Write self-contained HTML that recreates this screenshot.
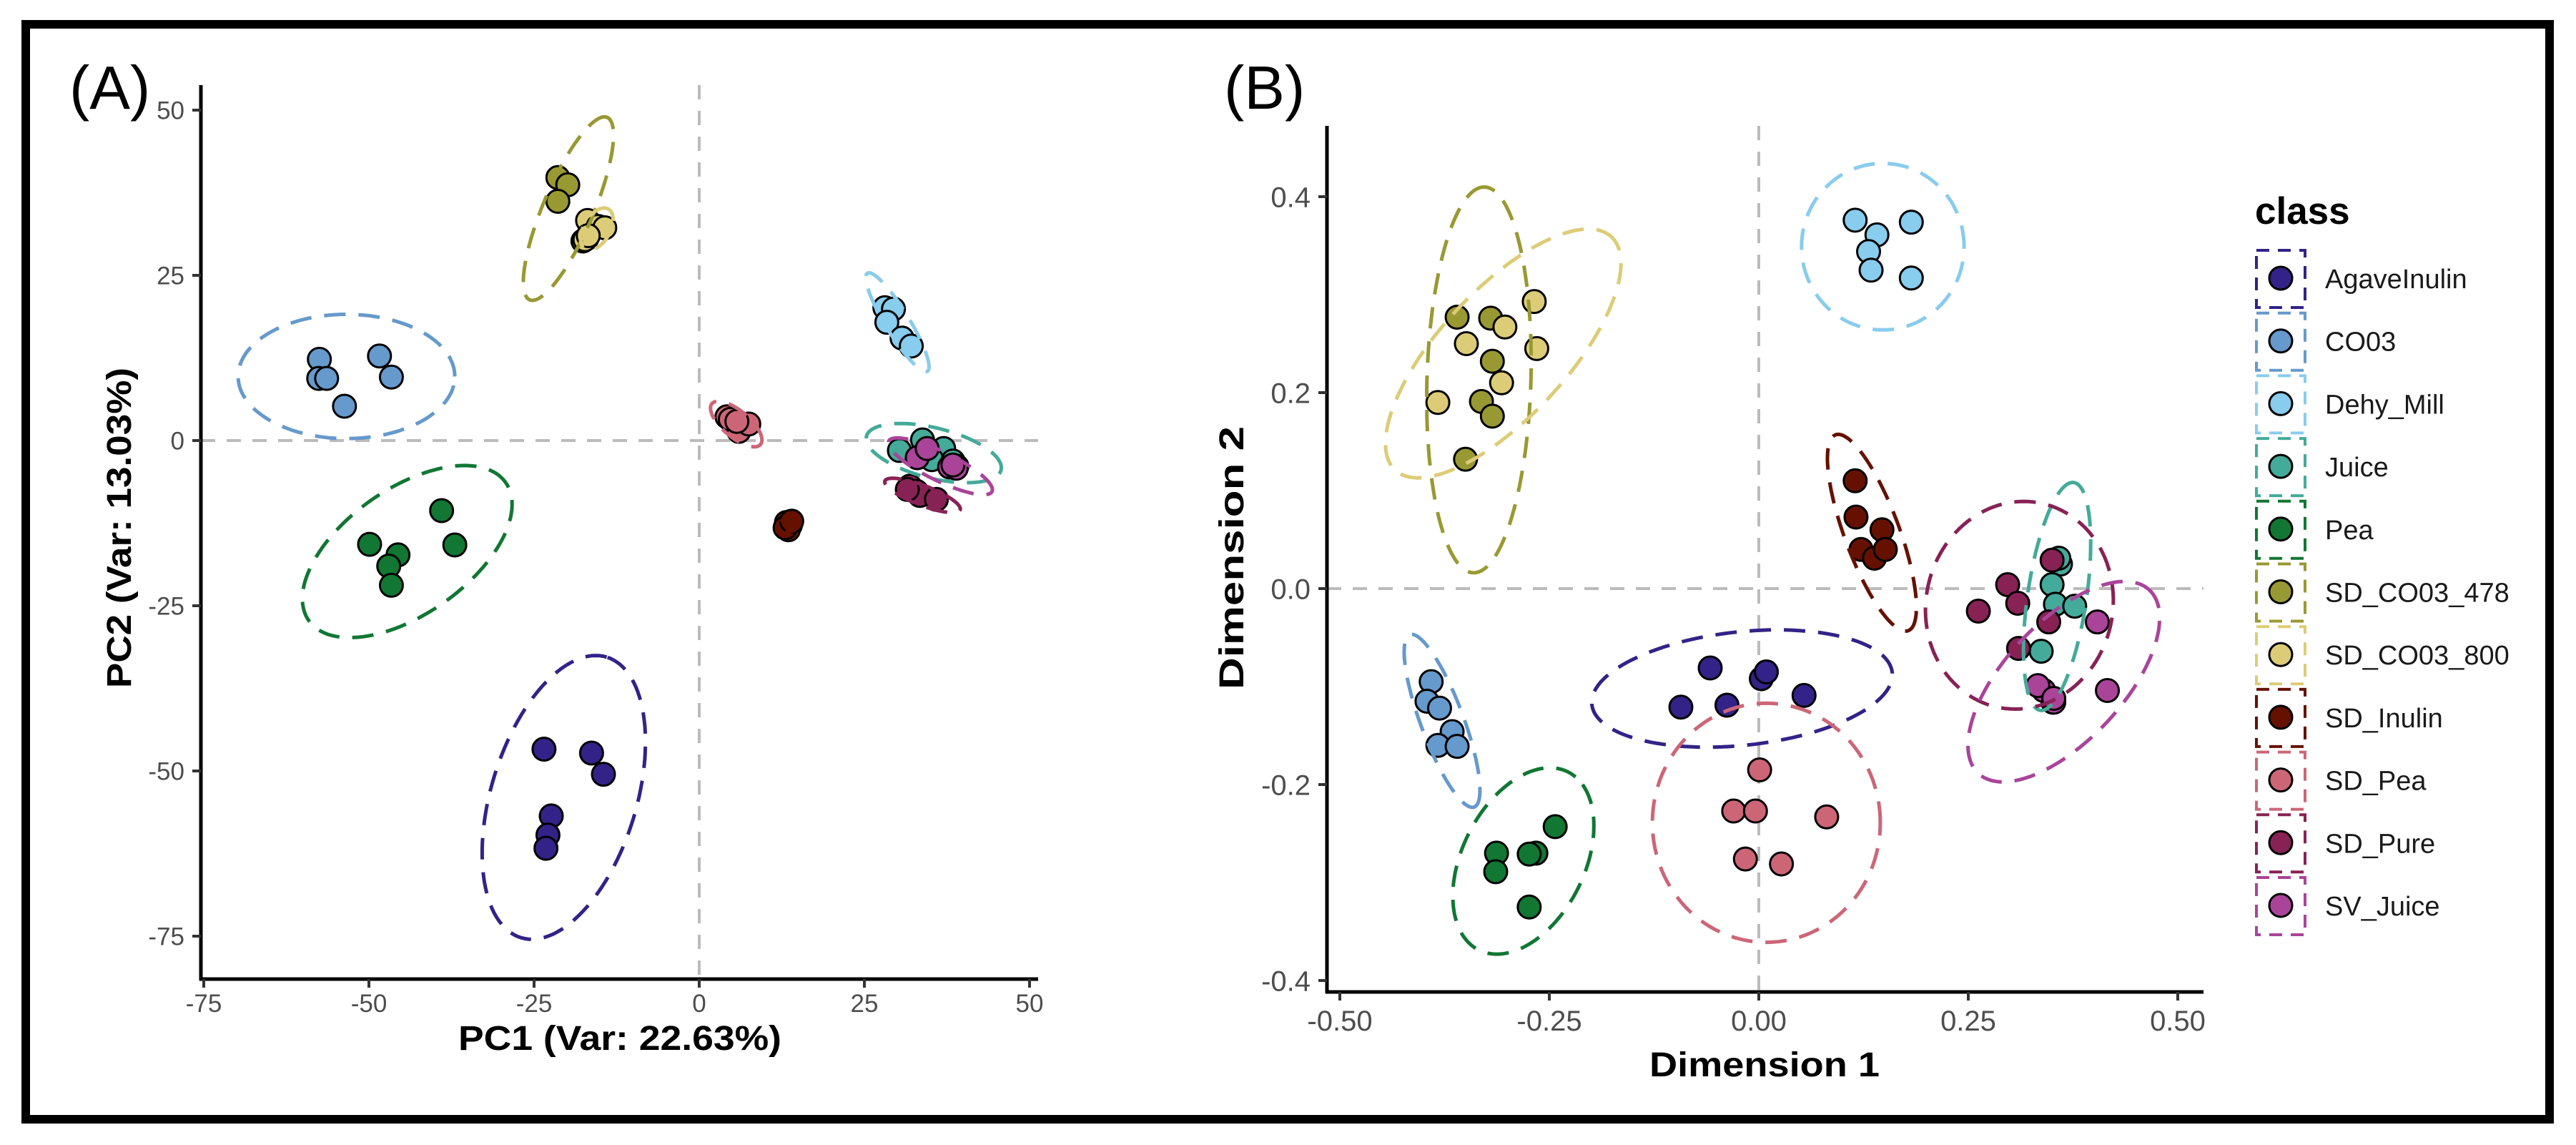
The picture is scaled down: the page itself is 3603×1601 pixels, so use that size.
<!DOCTYPE html>
<html><head><meta charset="utf-8"><style>
html,body{margin:0;padding:0;background:#fff}
svg{display:block}
text{font-family:"Liberation Sans",sans-serif}
</style></head><body>
<svg id="fig" width="3603" height="1601" viewBox="0 0 3603 1601" xmlns="http://www.w3.org/2000/svg">
<rect x="36" y="34" width="3530" height="1531" fill="none" stroke="#000" stroke-width="12"/>
<text x="97" y="152" font-size="85" fill="#000">(A)</text>
<text x="1712" y="152" font-size="85" fill="#000">(B)</text>
<g id="gA"></g>
<g id="gB"></g>
<g id="legend">
<text x="3154" y="313" font-size="53" font-weight="bold" fill="#000">class</text>
</g>
</svg>
<script>
const classes = ["AgaveInulin","CO03","Dehy_Mill","Juice","Pea","SD_CO03_478","SD_CO03_800","SD_Inulin","SD_Pea","SD_Pure","SV_Juice"];
const colors = ["#332288","#6699cc","#88ccee","#44aa99","#117733","#999933","#ddcc77","#661100","#cc6677","#882255","#aa4499"];

// Panel A data (PC1, PC2) per class
const pcaX = [
 [-23.5,-16.3,-14.5,-22.4,-22.9,-23.2],
 [-57.5,-57.6,-56.4,-53.7,-48.4,-46.6],
 [28.1,29.4,28.4,30.7,32.1],
 [30.3,33.8,37.0,35.2,38.4,39.0],
 [-49.9,-45.6,-47.0,-46.6,-39.0,-37.0],
 [-21.4,-19.9,-21.4,-17.6,-17.0],
 [-16.9,-15.3,-14.3,-17.3,-16.8],
 [13.2,13.8,13.5,13.0,14.0],
 [4.2,4.7,6.0,7.5,5.7],
 [31.9,32.9,33.4,35.9,31.5],
 [33.0,34.5,37.9,38.9,38.4]];
const pcaY = [
 [-46.7,-47.3,-50.5,-56.8,-59.7,-61.7],
 [12.3,9.4,9.4,5.2,12.8,9.6],
 [20.1,19.9,17.9,15.5,14.3],
 [-1.5,0.1,-1.2,-2.9,-3.1,-3.9],
 [-15.7,-17.3,-19.0,-21.9,-10.6,-15.8],
 [39.8,38.7,36.2,30.2,30.6],
 [33.3,32.4,32.2,30.4,31.0],
 [-12.4,-12.8,-13.5,-13.2,-12.2],
 [3.6,3.2,1.4,2.5,2.9],
 [-6.9,-7.7,-8.3,-8.9,-7.4],
 [-2.6,-1.2,-4.0,-4.2,-3.7]];
// Panel A ellipses: centre, semi-axes (data units), angle (deg)
const pcaEllCx = [-20.5,-53.4,30.0,35.5,-44.2,-19.8,-15.5,13.5,5.6,33.8,36.5];
const pcaEllCy = [-54.0,9.7,17.9,-1.9,-16.8,35.1,32.0,-12.8,2.5,-8.3,-3.9];
const pcaEllA = [22.2,16.4,8.7,10.5,18.2,15.0,3.5,1.4,4.8,6.1,8.7];
const pcaEllB = [11.0,9.4,1.8,3.8,9.5,3.8,2.0,1.0,2.0,1.5,2.2];
const pcaEllAng = [73,0,-58.6,-14,35,67,60,0,-40,-21,-26];

// Panel B data (Dimension 1, Dimension 2)
const mdsX = [
 [-0.093,-0.058,-0.038,0.003,0.009,0.054],
 [-0.391,-0.396,-0.381,-0.366,-0.383,-0.360],
 [0.115,0.182,0.141,0.131,0.134,0.182],
 [0.360,0.358,0.350,0.354,0.377,0.337,0.351],
 [-0.243,-0.313,-0.266,-0.274,-0.314,-0.274],
 [-0.360,-0.320,-0.318,-0.331,-0.318,-0.350],
 [-0.383,-0.349,-0.303,-0.307,-0.268,-0.265],
 [0.115,0.116,0.147,0.122,0.138,0.151],
 [0.001,-0.030,-0.004,0.081,-0.016,0.027],
 [0.350,0.297,0.309,0.262,0.346,0.310],
 [0.404,0.416,0.340,0.333,0.352,0.352]];
const mdsY = [
 [-0.121,-0.081,-0.119,-0.092,-0.085,-0.109],
 [-0.095,-0.115,-0.122,-0.146,-0.160,-0.161],
 [0.376,0.374,0.361,0.344,0.325,0.317],
 [0.025,0.031,0.004,-0.016,-0.018,-0.064,-0.116],
 [-0.243,-0.270,-0.270,-0.271,-0.289,-0.325],
 [0.277,0.276,0.232,0.191,0.176,0.132],
 [0.190,0.250,0.267,0.210,0.293,0.245],
 [0.110,0.073,0.060,0.040,0.031,0.040],
 [-0.185,-0.227,-0.227,-0.233,-0.276,-0.281],
 [0.029,0.004,-0.015,-0.023,-0.034,-0.061],
 [-0.034,-0.104,-0.104,-0.099,-0.116,-0.112]];
const mdsEllCx = [-0.020,-0.378,0.148,0.356,-0.281,-0.334,-0.305,0.135,0.009,0.311,0.364];
const mdsEllCy = [-0.102,-0.135,0.349,-0.008,-0.278,0.213,0.240,0.057,-0.239,-0.017,-0.095];
const mdsEllA = [0.180,0.096,0.097,0.118,0.106,0.197,0.176,0.109,0.136,0.113,0.139];
const mdsEllB = [0.058,0.025,0.085,0.035,0.070,0.062,0.070,0.032,0.122,0.105,0.065];
const mdsEllAng = [5,-66,0,80,54,88,41,-66,0,20,40];

const pcaXTicks = [-75,-50,-25,0,25,50];
const pcaYTicks = [50,25,0,-25,-50,-75];
const mdsXTicks = [-0.5,-0.25,0,0.25,0.5];
const mdsXTickLabels = ["-0.50","-0.25","0.00","0.25","0.50"];
const mdsYTicks = [0.4,0.2,0,-0.2,-0.4];
const mdsYTickLabels = ["0.4","0.2","0.0","-0.2","-0.4"];

const NS="http://www.w3.org/2000/svg";
function mk(tag, attrs, parent){const e=document.createElementNS(NS,tag);for(const k in attrs)e.setAttribute(k,attrs[k]);parent.appendChild(e);return e;}

function drawPanel(g, cfg){
  const sx=cfg.sx, sy=cfg.sy;
  // zero lines
  let l=mk('line',{x1:sx(0),y1:cfg.top,x2:sx(0),y2:cfg.axisY,stroke:'#bbbbbb','stroke-width':4,'stroke-dasharray':'20,16'},g);
  
  
  l=mk('line',{x1:cfg.axisX,y1:sy(0),x2:cfg.right,y2:sy(0),stroke:'#bbbbbb','stroke-width':4,'stroke-dasharray':'20,16'},g);
  
  
  // points
  for(let c=0;c<cfg.X.length;c++){
    const pg=mk('g',{},g);
    
    
    for(let i=0;i<cfg.X[c].length;i++){
      const p=mk('circle',{cx:sx(cfg.X[c][i]),cy:sy(cfg.Y[c][i]),r:16,fill:colors[c],stroke:'#000','stroke-width':3},pg);
      
      
    }
  }
  // ellipses
  for(let c=0;c<cfg.ecx.length;c++){
    const a=cfg.ea[c], b=cfg.eb[c], t=cfg.eang[c]*Math.PI/180;
    let d='';
    for(let k=0;k<=120;k++){
      const th=k/120*2*Math.PI;
      const ux=a*Math.cos(th), vy=b*Math.sin(th);
      const x=cfg.ecx[c]+ux*Math.cos(t)-vy*Math.sin(t);
      const y=cfg.ecy[c]+ux*Math.sin(t)+vy*Math.cos(t);
      d+=(k?'L':'M')+sx(x).toFixed(1)+','+sy(y).toFixed(1);
    }
    const e=mk('path',{d:d+'Z',fill:'none',stroke:colors[c],'stroke-width':5,'stroke-dasharray':'30,18'},g);
    
    
  }
  // axes
  l=mk('line',{x1:cfg.axisX,y1:cfg.top,x2:cfg.axisX,y2:cfg.axisY+2,stroke:'#000','stroke-width':5},g);
  
  
  l=mk('line',{x1:cfg.axisX-2,y1:cfg.axisY,x2:cfg.right,y2:cfg.axisY,stroke:'#000','stroke-width':5},g);
  
  
  cfg.xt.forEach((v,i)=>{
    const t=mk('line',{x1:sx(v),y1:cfg.axisY,x2:sx(v),y2:cfg.axisY+12,stroke:'#333','stroke-width':4},g);
    
    
    const tx=mk('text',{x:sx(v),y:cfg.axisY+cfg.xLabOff,'text-anchor':'middle','font-size':cfg.fs,fill:'#4d4d4d'},g);
    tx.textContent=cfg.xtl[i];
    
    
  });
  cfg.yt.forEach((v,i)=>{
    const t=mk('line',{x1:cfg.axisX-12,y1:sy(v),x2:cfg.axisX,y2:sy(v),stroke:'#333','stroke-width':4},g);
    
    
    const tx=mk('text',{x:cfg.axisX-23,y:sy(v)+cfg.fs*0.36,'text-anchor':'end','font-size':cfg.fs,fill:'#4d4d4d'},g);
    tx.textContent=cfg.ytl[i];
    
    
  });
  let tt=mk('text',{x:cfg.xTitleX,y:cfg.xTitleY,'text-anchor':'middle','font-size':48,'font-weight':'bold',fill:'#000',textLength:cfg.xTitleLen,lengthAdjust:'spacingAndGlyphs'},g);
  tt.textContent=cfg.xTitle;
  
  
  tt=mk('text',{x:0,y:0,'text-anchor':'middle','font-size':48,'font-weight':'bold',fill:'#000',textLength:cfg.yTitleLen,lengthAdjust:'spacingAndGlyphs',transform:'translate('+(cfg.yTitleX+17)+','+cfg.yTitleY+') rotate(-90)'},g);
  tt.textContent=cfg.yTitle;
  
  
}

drawPanel(document.getElementById('gA'),{
  sx:v=>978+9.24*v, sy:v=>616-9.24*v,
  X:pcaX,Y:pcaY,ecx:pcaEllCx,ecy:pcaEllCy,ea:pcaEllA,eb:pcaEllB,eang:pcaEllAng,
  top:119,axisY:1369,axisX:281,right:1452,
  xt:pcaXTicks,xtl:pcaXTicks.map(String),yt:pcaYTicks,ytl:pcaYTicks.map(String),
  fs:35,xLabOff:46,
  xTitle:'PC1 (Var: 22.63%)',xTitleX:867,xTitleY:1468,xTitleLen:452,
  yTitle:'PC2 (Var: 13.03%)',yTitleX:166,yTitleY:738,yTitleLen:448
});
drawPanel(document.getElementById('gB'),{
  sx:v=>2460+1172*v, sy:v=>823-1370*v,
  X:mdsX,Y:mdsY,ecx:mdsEllCx,ecy:mdsEllCy,ea:mdsEllA,eb:mdsEllB,eang:mdsEllAng,
  top:176,axisY:1387,axisX:1856,right:3082,
  xt:mdsXTicks,xtl:mdsXTickLabels,yt:mdsYTicks,ytl:mdsYTickLabels,
  fs:40,xLabOff:54,
  xTitle:'Dimension 1',xTitleX:2468,xTitleY:1505,xTitleLen:322,
  yTitle:'Dimension 2',yTitleX:1722,yTitleY:780,yTitleLen:368
});

const lg=document.getElementById('legend');
classes.forEach((name,i)=>{
  const y0=348+87.7*i;
  const g=mk('g',{},lg);
  
  
  const r=mk('rect',{x:3156,y:y0+2,width:68,height:80,fill:'none',stroke:colors[i],'stroke-width':4,'stroke-dasharray':'18,12'},g);
  
  
  const c=mk('circle',{cx:3190,cy:y0+41,r:16,fill:colors[i],stroke:'#000','stroke-width':3},g);
  
  
  const t=mk('text',{x:3252,y:y0+55,'font-size':38,fill:'#1a1a1a'},g);
  t.textContent=name;
  
  
});
</script>
</body></html>
